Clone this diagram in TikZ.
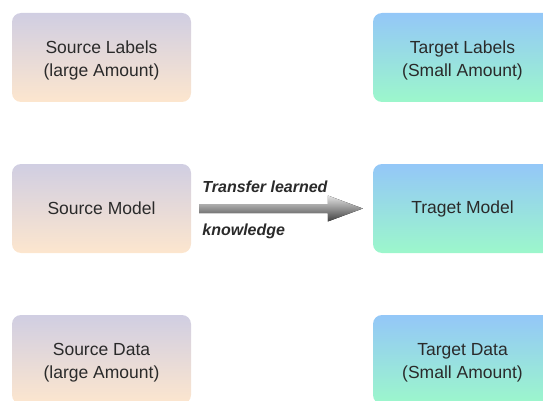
\documentclass[tikz,border=0pt]{standalone}
\usepackage{fontspec}
\setmainfont{Liberation Sans}
\usetikzlibrary{calc}

\definecolor{srctop}{HTML}{D0CEE2}
\definecolor{srcbot}{HTML}{FDE6CE}
\definecolor{tgttop}{HTML}{94C7F8}
\definecolor{tgtbot}{HTML}{9CF7CB}
\definecolor{txt}{HTML}{2A2A2A}
\definecolor{arrtop}{HTML}{E4E4E4}
\definecolor{arrbot}{HTML}{404040}

% two centred lines, set a little below the middle of the card
\newcommand{\cardlines}[2]{%
  \raisebox{-2.5pt}[\height][\depth]{\begin{tabular}{@{}c@{}}#1\\#2\end{tabular}}}

\tikzset{
  card/.style={rectangle, rounded corners=9pt, draw=none, inner sep=0pt,
    minimum width=179pt, minimum height=89pt, align=center, text=txt,
    font=\fontsize{17.5}{23}\selectfont},
  srcbox/.style={card, top color=srctop, bottom color=srcbot},
  tgtbox/.style={card, top color=tgttop, bottom color=tgtbot},
  arrowlabel/.style={anchor=west, inner sep=0pt, text=txt,
    font=\fontsize{16}{18}\selectfont\bfseries\itshape},
}

\begin{document}
\begin{tikzpicture}[x=1pt,y=1pt]
  \useasboundingbox (0,0) rectangle (543,-401);
  \clip (0,0) rectangle (543,-401);

  % source side
  \node[srcbox] (srclabels) at (101.5,-57.5)  {\cardlines{Source Labels}{(large Amount)}};
  \node[srcbox] (srcmodel)  at (101.5,-208.5) {Source Model};
  \node[srcbox] (srcdata)   at (101.5,-359.5) {\cardlines{Source Data}{(large Amount)}};

  % target side
  \node[tgtbox] (tgtlabels) at (462.5,-57.5)  {\cardlines{Target Labels}{(Small Amount)}};
  \node[tgtbox] (tgtmodel)  at (462.5,-208.5) {Traget Model};
  \node[tgtbox] (tgtdata)   at (462.5,-359.5) {\cardlines{Target Data}{(Small Amount)}};

  % transfer arrow between the two models
  \coordinate (tail) at ($(srcmodel.east)+(8,0)$);
  \coordinate (tip)  at ($(tgtmodel.west)+(-10,0)$);
  \coordinate (neck) at ($(tip)+(-35,0)$);
  \fill[top color=arrtop, bottom color=arrbot]
    ($(tail)+(0,4.5)$) -- ($(neck)+(0,4.5)$) -- ($(neck)+(0,13)$) --
    (tip) -- ($(neck)+(0,-13)$) -- ($(neck)+(0,-4.5)$) --
    ($(tail)+(0,-4.5)$) -- cycle;

  \node[arrowlabel] (lbltop) at ($(tail)+(3,21.5)$) {Transfer learned};
  \node[arrowlabel] (lblbot) at ($(tail)+(3,-22.5)$) {knowledge};
\end{tikzpicture}
\end{document}
